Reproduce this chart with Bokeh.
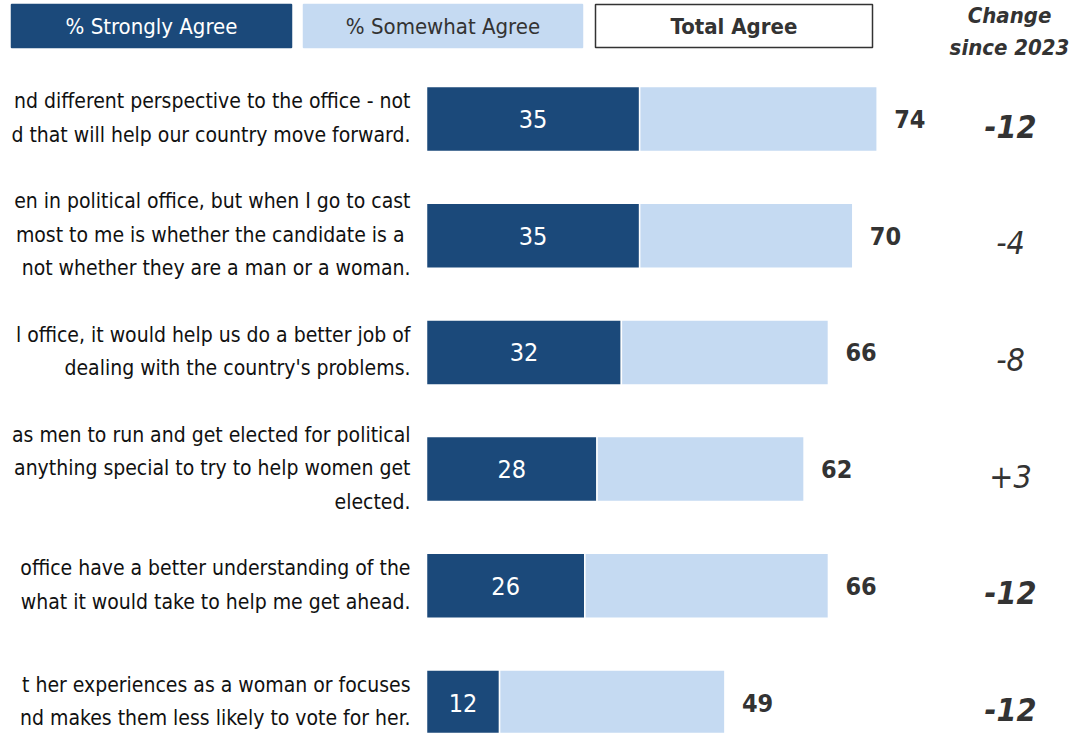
from bokeh.plotting import figure
from bokeh.models import Range1d, ColumnDataSource
from bokeh.core.properties import value
from bokeh.embed import file_html
from bokeh.resources import INLINE

# ---------------- data ----------------
statements = [
    "nd different perspective to the office - not\nd that will help our country move forward.",
    "en in political office, but when I go to cast\n most to me is whether the candidate is a\nnot whether they are a man or a woman.",
    "l office, it would help us do a better job of\ndealing with the country's problems.",
    "as men to run and get elected for political\nanything special to try to help women get\nelected.",
    "office have a better understanding of the\nwhat it would take to help me get ahead.",
    "t her experiences as a woman or focuses\nnd makes them less likely to vote for her.",
]
strongly = [35, 35, 32, 28, 26, 12]
total = [74, 70, 66, 62, 66, 49]
change = ["-12", "-4", "-8", "+3", "-12", "-12"]
change_bold = [True, False, False, False, True, True]
legend_labels = ["% Strongly Agree", "% Somewhat Agree", "Total Agree"]
change_header = "Change\nsince 2023"

# ---------------- styling / layout ----------------
DARK = "#1b497a"
LIGHT = "#c5daf2"
TXT = "#333333"
FONT = "DejaVu Sans Condensed"

X0_PX, PX_PER_UNIT = 426, 6.09
ROW0_PX, ROW_PX = 118.5, 116.7

def X(px):
    return (px - X0_PX) / PX_PER_UNIT

def Y(py):
    return (py - ROW0_PX) / ROW_PX

W, H = 1074, 733
p = figure(width=W, height=H, output_backend="svg", toolbar_location=None,
           x_range=Range1d(X(0), X(W)), y_range=Range1d(Y(H), Y(0)),
           min_border=0, outline_line_color=None)
p.axis.visible = False
p.grid.visible = False

rows = list(range(len(strongly)))
somewhat = [t - s for t, s in zip(total, strongly)]
src = ColumnDataSource(dict(
    y=rows, strongly=strongly, total=total, somewhat=somewhat,
    smid=[s / 2 for s in strongly], stmt=statements,
    change=change, cx=[X(1010)] * len(rows),
    cstyle=["bold italic" if b else "italic" for b in change_bold],
))

BAR_H = 65 / ROW_PX
p.hbar(y="y", left=0, right="strongly", height=BAR_H, source=src,
       fill_color=DARK, line_color="white", line_width=1.5)
p.hbar(y="y", left="strongly", right="total", height=BAR_H, source=src,
       fill_color=LIGHT, line_color="white", line_width=1.5)

p.text(x="smid", y="y", text="strongly", source=src, text_color="white",
       text_font=value(FONT), text_font_size="25px", text_align="center",
       text_baseline="middle")
p.text(x="total", y="y", text="total", source=src, x_offset=17, text_color=TXT,
       text_font=value(FONT), text_font_size="25px", text_font_style="bold",
       text_align="left", text_baseline="middle")
p.text(x="cx", y="y", text="change", source=src, y_offset=7, text_color=TXT,
       text_font=value(FONT), text_font_size="32px", text_font_style="cstyle",
       text_align="center", text_baseline="middle")
p.text(x=0, y="y", text="stmt", source=src, x_offset=-16, y_offset=-1,
       text_color="#111111", text_font=value(FONT), text_font_size="21px",
       text_align="right", text_baseline="middle", text_line_height=1.4)

# ---------------- header legend ----------------
boxes_px = [(11, 291, DARK, None, "white", "normal"),
            (303, 582, LIGHT, None, TXT, "normal"),
            (595, 872, "white", "#333333", TXT, "bold")]
hdr = ColumnDataSource(dict(
    left=[X(b[0]) for b in boxes_px], right=[X(b[1]) for b in boxes_px],
    fill=[b[2] for b in boxes_px],
    line=[b[3] if b[3] else b[2] for b in boxes_px],
    tc=[b[4] for b in boxes_px], fs=[b[5] for b in boxes_px],
    cx=[X((b[0] + b[1]) / 2) for b in boxes_px], lab=legend_labels,
))
p.quad(left="left", right="right", top=Y(4), bottom=Y(47), source=hdr,
       fill_color="fill", line_color="line", line_width=1.5)
p.text(x="cx", y=Y(26), text="lab", source=hdr, text_color="tc",
       text_font_style="fs", text_font=value(FONT), text_font_size="22px",
       text_align="center", text_baseline="middle")

p.text(x=[X(1009)], y=[Y(31)], text=[change_header], text_color=TXT,
       text_font=value(FONT), text_font_size="22px", text_font_style="bold italic",
       text_align="center", text_baseline="middle", text_line_height=1.3)

open("out.html", "w").write(file_html(p, INLINE))
